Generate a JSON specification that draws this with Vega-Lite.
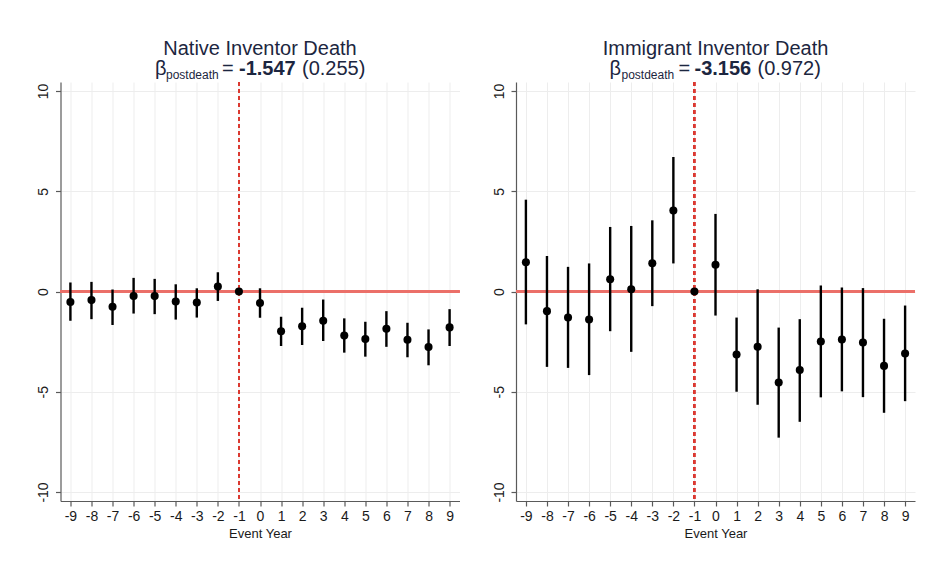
{
  "$schema": "https://vega.github.io/schema/vega-lite/v6.json",
  "autosize": {"type": "none"},
  "padding": {"left": 60.5, "top": 82, "right": 869.5, "bottom": 484},
  "background": "white",
  "spacing": 56.5,
  "bounds": "flush",
  "datasets": {
    "est": [
      {"panel": "native", "t": -9, "b": -0.52, "lo": -1.46, "hi": 0.45},
      {"panel": "native", "t": -8, "b": -0.43, "lo": -1.38, "hi": 0.48},
      {"panel": "native", "t": -7, "b": -0.76, "lo": -1.67, "hi": 0.10},
      {"panel": "native", "t": -6, "b": -0.22, "lo": -1.10, "hi": 0.68},
      {"panel": "native", "t": -5, "b": -0.23, "lo": -1.13, "hi": 0.63},
      {"panel": "native", "t": -4, "b": -0.50, "lo": -1.40, "hi": 0.36},
      {"panel": "native", "t": -3, "b": -0.55, "lo": -1.30, "hi": 0.16},
      {"panel": "native", "t": -2, "b": 0.25, "lo": -0.47, "hi": 0.96},
      {"panel": "native", "t": -1, "b": 0, "lo": 0, "hi": 0},
      {"panel": "native", "t": 0, "b": -0.57, "lo": -1.31, "hi": 0.16},
      {"panel": "native", "t": 1, "b": -1.98, "lo": -2.72, "hi": -1.26},
      {"panel": "native", "t": 2, "b": -1.73, "lo": -2.67, "hi": -0.81},
      {"panel": "native", "t": 3, "b": -1.46, "lo": -2.47, "hi": -0.40},
      {"panel": "native", "t": 4, "b": -2.20, "lo": -3.05, "hi": -1.34},
      {"panel": "native", "t": 5, "b": -2.37, "lo": -3.25, "hi": -1.51},
      {"panel": "native", "t": 6, "b": -1.86, "lo": -2.76, "hi": -0.98},
      {"panel": "native", "t": 7, "b": -2.41, "lo": -3.28, "hi": -1.56},
      {"panel": "native", "t": 8, "b": -2.77, "lo": -3.68, "hi": -1.89},
      {"panel": "native", "t": 9, "b": -1.79, "lo": -2.72, "hi": -0.88},
      {"panel": "immigrant", "t": -9, "b": 1.46, "lo": -1.64, "hi": 4.58},
      {"panel": "immigrant", "t": -8, "b": -0.98, "lo": -3.76, "hi": 1.77},
      {"panel": "immigrant", "t": -7, "b": -1.30, "lo": -3.81, "hi": 1.23},
      {"panel": "immigrant", "t": -6, "b": -1.40, "lo": -4.17, "hi": 1.40},
      {"panel": "immigrant", "t": -5, "b": 0.61, "lo": -1.98, "hi": 3.22},
      {"panel": "immigrant", "t": -4, "b": 0.11, "lo": -3.01, "hi": 3.27},
      {"panel": "immigrant", "t": -3, "b": 1.41, "lo": -0.73, "hi": 3.55},
      {"panel": "immigrant", "t": -2, "b": 4.04, "lo": 1.40, "hi": 6.71},
      {"panel": "immigrant", "t": -1, "b": 0, "lo": 0, "hi": 0},
      {"panel": "immigrant", "t": 0, "b": 1.33, "lo": -1.20, "hi": 3.87},
      {"panel": "immigrant", "t": 1, "b": -3.14, "lo": -5.00, "hi": -1.30},
      {"panel": "immigrant", "t": 2, "b": -2.76, "lo": -5.65, "hi": 0.11},
      {"panel": "immigrant", "t": 3, "b": -4.54, "lo": -7.29, "hi": -1.80},
      {"panel": "immigrant", "t": 4, "b": -3.92, "lo": -6.50, "hi": -1.38},
      {"panel": "immigrant", "t": 5, "b": -2.49, "lo": -5.28, "hi": 0.30},
      {"panel": "immigrant", "t": 6, "b": -2.39, "lo": -4.98, "hi": 0.20},
      {"panel": "immigrant", "t": 7, "b": -2.54, "lo": -5.27, "hi": 0.17},
      {"panel": "immigrant", "t": 8, "b": -3.71, "lo": -6.05, "hi": -1.36},
      {"panel": "immigrant", "t": 9, "b": -3.09, "lo": -5.47, "hi": -0.70}
    ],
    "titles": [
      {"panel": "native", "title": "Native Inventor Death", "beta": "β", "sub": "postdeath", "eq": "=", "coef": "-1.547", "se": "(0.255)"},
      {"panel": "immigrant", "title": "Immigrant Inventor Death", "beta": "β", "sub": "postdeath", "eq": "=", "coef": "-3.156", "se": "(0.972)"}
    ]
  },
  "hconcat": [
    {
      "width": 399,
      "height": 419,
      "data": {"name": "est"},
      "transform": [{"filter": "datum.panel === 'native'"}],
      "layer": [
        {
          "mark": {"type": "rule", "color": "#ea6f6a", "strokeWidth": 1.4},
          "encoding": {
            "y": {"datum": 0, "type": "quantitative",
              "scale": {"domain": [-10.45, 10.45], "nice": false, "zero": false},
              "axis": {"values": [-10, -5, 0, 5, 10], "labelExpr": "'' + datum.value", "labelOverlap": false, "title": null, "grid": true, "labelAngle": -90, "labelAlign": "center", "labelBaseline": "bottom", "labelPadding": 5, "labelFlush": false}}
          }
        },
        {
          "mark": {"type": "rule", "color": "#dc3a30", "strokeWidth": 1.3, "strokeDash": [4, 3]},
          "encoding": {
            "x": {"datum": -1, "type": "quantitative",
              "scale": {"domain": [-9.47, 9.47], "nice": false, "zero": false},
              "axis": {"values": [-9,-8,-7,-6,-5,-4,-3,-2,-1,0,1,2,3,4,5,6,7,8,9], "tickCount": 19, "labelExpr": "'' + datum.value", "labelOverlap": false, "title": "Event Year", "grid": true, "labelPadding": 3, "titlePadding": 4, "labelFlush": false}}
          }
        },
        {
          "mark": {"type": "rule", "color": "black", "strokeWidth": 2.4},
          "encoding": {
            "x": {"field": "t", "type": "quantitative", "title": "Event Year"},
            "y": {"field": "lo", "type": "quantitative", "title": null},
            "y2": {"field": "hi"}
          }
        },
        {
          "mark": {"type": "circle", "color": "black", "opacity": 1, "size": 65},
          "encoding": {
            "x": {"field": "t", "type": "quantitative", "title": "Event Year"},
            "y": {"field": "b", "type": "quantitative", "title": null}
          }
        },
        {
          "data": {"name": "titles"},
          "transform": [{"filter": "datum.panel === 'native'"}],
          "mark": {"type": "text", "fontSize": 20, "color": "#1c2640", "align": "center", "baseline": "alphabetic", "dy": -27},
          "encoding": {"x": {"datum": 0}, "y": {"datum": 10.45}, "text": {"field": "title"}}
        },
        {
          "data": {"name": "titles"},
          "transform": [{"filter": "datum.panel === 'native'"}],
          "mark": {"type": "text", "fontSize": 20, "color": "#1c2640", "align": "left", "baseline": "alphabetic", "dx": -105, "dy": -7},
          "encoding": {"x": {"datum": 0}, "y": {"datum": 10.45}, "text": {"field": "beta"}}
        },
        {
          "data": {"name": "titles"},
          "transform": [{"filter": "datum.panel === 'native'"}],
          "mark": {"type": "text", "fontSize": 12, "color": "#1c2640", "align": "left", "baseline": "alphabetic", "dx": -94, "dy": -3},
          "encoding": {"x": {"datum": 0}, "y": {"datum": 10.45}, "text": {"field": "sub"}}
        },
        {
          "data": {"name": "titles"},
          "transform": [{"filter": "datum.panel === 'native'"}],
          "mark": {"type": "text", "fontSize": 20, "color": "#1c2640", "align": "left", "baseline": "alphabetic", "dx": -38, "dy": -7},
          "encoding": {"x": {"datum": 0}, "y": {"datum": 10.45}, "text": {"field": "eq"}}
        },
        {
          "data": {"name": "titles"},
          "transform": [{"filter": "datum.panel === 'native'"}],
          "mark": {"type": "text", "fontSize": 20, "fontWeight": "bold", "color": "#1c2640", "align": "left", "baseline": "alphabetic", "dx": -21, "dy": -7},
          "encoding": {"x": {"datum": 0}, "y": {"datum": 10.45}, "text": {"field": "coef"}}
        },
        {
          "data": {"name": "titles"},
          "transform": [{"filter": "datum.panel === 'native'"}],
          "mark": {"type": "text", "fontSize": 20, "color": "#1c2640", "align": "left", "baseline": "alphabetic", "dx": 42, "dy": -7},
          "encoding": {"x": {"datum": 0}, "y": {"datum": 10.45}, "text": {"field": "se"}}
        }
      ]
    },
    {
      "width": 399,
      "height": 419,
      "data": {"name": "est"},
      "transform": [{"filter": "datum.panel === 'immigrant'"}],
      "layer": [
        {
          "mark": {"type": "rule", "color": "#ea6f6a", "strokeWidth": 1.4},
          "encoding": {
            "y": {"datum": 0, "type": "quantitative",
              "scale": {"domain": [-10.45, 10.45], "nice": false, "zero": false},
              "axis": {"values": [-10, -5, 0, 5, 10], "labelExpr": "'' + datum.value", "labelOverlap": false, "title": null, "grid": true, "labelAngle": -90, "labelAlign": "center", "labelBaseline": "bottom", "labelPadding": 5, "labelFlush": false}}
          }
        },
        {
          "mark": {"type": "rule", "color": "#dc3a30", "strokeWidth": 1.3, "strokeDash": [4, 3]},
          "encoding": {
            "x": {"datum": -1, "type": "quantitative",
              "scale": {"domain": [-9.47, 9.47], "nice": false, "zero": false},
              "axis": {"values": [-9,-8,-7,-6,-5,-4,-3,-2,-1,0,1,2,3,4,5,6,7,8,9], "tickCount": 19, "labelExpr": "'' + datum.value", "labelOverlap": false, "title": "Event Year", "grid": true, "labelPadding": 3, "titlePadding": 4, "labelFlush": false}}
          }
        },
        {
          "mark": {"type": "rule", "color": "black", "strokeWidth": 2.4},
          "encoding": {
            "x": {"field": "t", "type": "quantitative", "title": "Event Year"},
            "y": {"field": "lo", "type": "quantitative", "title": null},
            "y2": {"field": "hi"}
          }
        },
        {
          "mark": {"type": "circle", "color": "black", "opacity": 1, "size": 65},
          "encoding": {
            "x": {"field": "t", "type": "quantitative", "title": "Event Year"},
            "y": {"field": "b", "type": "quantitative", "title": null}
          }
        },
        {
          "data": {"name": "titles"},
          "transform": [{"filter": "datum.panel === 'immigrant'"}],
          "mark": {"type": "text", "fontSize": 20, "color": "#1c2640", "align": "center", "baseline": "alphabetic", "dy": -27},
          "encoding": {"x": {"datum": 0}, "y": {"datum": 10.45}, "text": {"field": "title"}}
        },
        {
          "data": {"name": "titles"},
          "transform": [{"filter": "datum.panel === 'immigrant'"}],
          "mark": {"type": "text", "fontSize": 20, "color": "#1c2640", "align": "left", "baseline": "alphabetic", "dx": -106, "dy": -7},
          "encoding": {"x": {"datum": 0}, "y": {"datum": 10.45}, "text": {"field": "beta"}}
        },
        {
          "data": {"name": "titles"},
          "transform": [{"filter": "datum.panel === 'immigrant'"}],
          "mark": {"type": "text", "fontSize": 12, "color": "#1c2640", "align": "left", "baseline": "alphabetic", "dx": -94, "dy": -3},
          "encoding": {"x": {"datum": 0}, "y": {"datum": 10.45}, "text": {"field": "sub"}}
        },
        {
          "data": {"name": "titles"},
          "transform": [{"filter": "datum.panel === 'immigrant'"}],
          "mark": {"type": "text", "fontSize": 20, "color": "#1c2640", "align": "left", "baseline": "alphabetic", "dx": -37, "dy": -7},
          "encoding": {"x": {"datum": 0}, "y": {"datum": 10.45}, "text": {"field": "eq"}}
        },
        {
          "data": {"name": "titles"},
          "transform": [{"filter": "datum.panel === 'immigrant'"}],
          "mark": {"type": "text", "fontSize": 20, "fontWeight": "bold", "color": "#1c2640", "align": "left", "baseline": "alphabetic", "dx": -21, "dy": -7},
          "encoding": {"x": {"datum": 0}, "y": {"datum": 10.45}, "text": {"field": "coef"}}
        },
        {
          "data": {"name": "titles"},
          "transform": [{"filter": "datum.panel === 'immigrant'"}],
          "mark": {"type": "text", "fontSize": 20, "color": "#1c2640", "align": "left", "baseline": "alphabetic", "dx": 42, "dy": -7},
          "encoding": {"x": {"datum": 0}, "y": {"datum": 10.45}, "text": {"field": "se"}}
        }
      ]
    }
  ],
  "config": {
    "view": {"stroke": null},
    "font": "Liberation Sans",
    "text": {"font": "Liberation Sans"},
    "axis": {
      "labelOverlap": false,
      "domainColor": "#5a5a5a",
      "domainWidth": 1.2,
      "tickColor": "#5a5a5a",
      "tickWidth": 1.2,
      "tickSize": 5,
      "labelFont": "Liberation Sans",
      "labelFontSize": 14,
      "labelColor": "#1a1a1a",
      "gridColor": "#ededed",
      "gridWidth": 1,
      "titleFont": "Liberation Sans",
      "titleFontWeight": "normal",
      "titleFontSize": 13,
      "titleColor": "#1a1a1a"
    }
  }
}
